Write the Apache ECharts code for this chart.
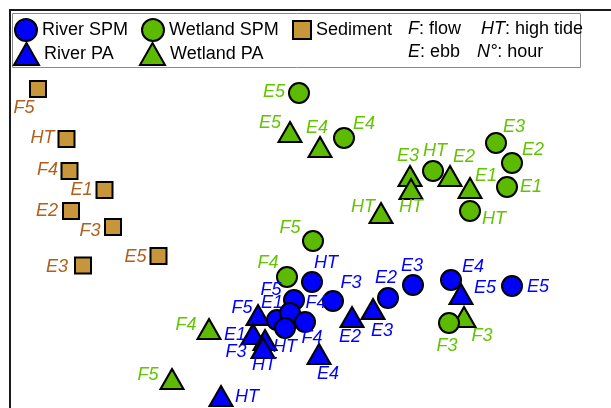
<!DOCTYPE html>
<html>
<head>
<meta charset="utf-8">
<script src="https://cdn.jsdelivr.net/npm/echarts@6/dist/echarts.min.js"></script>
<style>html,body{margin:0;padding:0;background:#fff}#c{width:611px;height:408px}</style>
</head>
<body>
<div id="c"></div>
<script>
// NMDS ordination scores
var sedNames = ['F5','HT','F4','E1','E2','F3','E5','E3'];
var sedX = [-2.62,-2.335,-2.305,-1.955,-2.29,-1.87,-1.415,-2.17];
var sedY = [1.61,1.11,0.79,0.60,0.39,0.23,-0.06,-0.155];

var wSpmNames = ['E5','E4','HT','E3','E2','E1','HT','F5','F4','F3'];
var wSpmX = [-0.01,0.44,1.33,1.96,2.12,2.07,1.70,0.13,-0.13,1.49];
var wSpmY = [1.57,1.12,0.79,1.07,0.87,0.63,0.39,0.09,-0.27,-0.73];

var wPaNames = ['E5','E4','E3','HT','E2','E1','HT','F4','F5','F3'];
var wPaX = [-0.10,0.20,1.10,1.11,1.50,1.70,0.81,-0.91,-1.28,1.64];
var wPaY = [1.18,1.03,0.74,0.61,0.74,0.62,0.37,-0.79,-1.29,-0.67];

var rSpmNames = ['HT','F3','E2','E3','E4','E5','F5','E1','F4','HT','F4'];
var rSpmX = [0.12,0.33,0.88,1.13,1.51,2.12,-0.06,-0.23,-0.10,-0.15,0.05];
var rSpmY = [-0.32,-0.51,-0.48,-0.35,-0.30,-0.36,-0.50,-0.70,-0.63,-0.78,-0.72];

var rPaNames = ['F5','E1','HT','F3','E2','E3','E4','E5','HT'];
var rPaX = [-0.42,-0.47,-0.35,-0.37,0.52,0.73,0.19,1.61,-0.79];
var rPaY = [-0.65,-0.84,-0.90,-0.98,-0.67,-0.59,-1.04,-0.44,-1.46];

// label placement (pixel offsets of label from its marker)
var sedLab = [[-14,19],[-24,-1],[-22,-1],[-23,0],[-24,0],[-23,4],[-23,1],[-26,1]];
var wSpmLab = [[-25,-1],[20,-14],[2,-20],[18,-16],[21,-13],[24,0],[24,8],[-23,-13],[-19,-14],[-2,23]];
var wPaLab = [[-20,-9],[-3,-19],[-2,-20],[0,18],[14,-19],[16,-12],[-18,-6],[-23,-4],[-24,-4],[18,19]];
var rSpmLab = [[14,-19],[18,-18],[-2,-20],[-1,-19],[22,-13],[26,1],[-23,-10],[-5,-17],[26,-10],[0,19],[7,16]];
var rPaLab = [[-16,-7],[-18,1],[-1,25],[-27,4],[-2,20],[9,22],[9,20],[24,-6],[26,1]];

var FONT = '"Liberation Sans", Arial, sans-serif';
var BLUE = '#0000ff', GREEN = '#5cbb00', SED = '#c8963a';
var GREEN_T = '#63c400', SED_T = '#b0601c';

function build(names, xs, ys, labs) {
  return names.map(function (n, i) {
    return { name: n, value: [xs[i], ys[i]], label: { offset: labs[i] } };
  });
}
function ser(name, sym, size, color, txtColor, data) {
  return {
    name: name, type: 'scatter', symbol: sym, symbolSize: size,
    itemStyle: { color: color, borderColor: '#000', borderWidth: 2, opacity: 1 },
    label: {
      show: true, position: 'inside', formatter: '{b}',
      color: txtColor, fontSize: 18, fontStyle: 'italic', fontFamily: FONT,
      align: 'center', verticalAlign: 'middle'
    },
    emphasis: { disabled: true },
    data: data
  };
}
function leg(name, icon, color, left, top, w, h) {
  return {
    data: [{ name: name, icon: icon, itemStyle: { color: color, borderColor: '#000', borderWidth: 2 } }],
    left: left, top: top, itemWidth: w, itemHeight: h, padding: 0, itemGap: 0,
    selectedMode: false, z: 5,
    textStyle: { fontSize: 18, color: '#000', fontFamily: FONT }
  };
}
var hiddenAxis = {
  type: 'value', axisLabel: { show: false }, axisTick: { show: false }, splitLine: { show: false },
  axisLine: { show: true, onZero: false, lineStyle: { color: '#1a1a1a', width: 2 } }
};

var chart = echarts.init(document.getElementById('c'), null, { renderer: 'canvas' });
chart.setOption({
  animation: false,
  backgroundColor: '#fff',
  grid: { left: 10, top: 10, right: 0, bottom: 0, show: false },
  xAxis: Object.assign({}, hiddenAxis, { min: -2.9, max: 3.11, position: 'top' }),
  yAxis: Object.assign({}, hiddenAxis, { min: -1.58, max: 2.4, position: 'left' }),
  legend: [
    leg('River SPM', 'circle', BLUE, 14, 18, 22, 22),
    leg('Wetland SPM', 'circle', GREEN, 141, 18, 22, 22),
    leg('Sediment', 'rect', SED, 292, 20, 18, 18),
    leg('River PA', 'triangle', BLUE, 13, 42, 25, 22),
    leg('Wetland PA', 'triangle', GREEN, 139, 42, 25, 22)
  ],
  graphic: [
    { type: 'rect', z: 1, shape: { x: 12.5, y: 13.5, width: 568, height: 54 }, style: { fill: '#fff', stroke: '#8a8a8a', lineWidth: 1 } },
    { type: 'text', z: 6, left: 408, top: 20, style: { text: '{i|F}: flow', font: '18px ' + FONT, fill: '#000', rich: { i: { fontStyle: 'italic', fontSize: 18, fontFamily: FONT } } } },
    { type: 'text', z: 6, left: 481, top: 20, style: { text: '{i|HT}: high tide', font: '18px ' + FONT, fill: '#000', rich: { i: { fontStyle: 'italic', fontSize: 18, fontFamily: FONT } } } },
    { type: 'text', z: 6, left: 408, top: 43, style: { text: '{i|E}: ebb', font: '18px ' + FONT, fill: '#000', rich: { i: { fontStyle: 'italic', fontSize: 18, fontFamily: FONT } } } },
    { type: 'text', z: 6, left: 477, top: 43, style: { text: '{i|N°}: hour', font: '18px ' + FONT, fill: '#000', rich: { i: { fontStyle: 'italic', fontSize: 18, fontFamily: FONT } } } }
  ],
  series: [
    ser('Sediment', 'rect', 16, SED, SED_T, build(sedNames, sedX, sedY, sedLab)),
    ser('Wetland PA', 'triangle', [23, 20], GREEN, GREEN_T, build(wPaNames, wPaX, wPaY, wPaLab)),
    ser('Wetland SPM', 'circle', 20, GREEN, GREEN_T, build(wSpmNames, wSpmX, wSpmY, wSpmLab)),
    ser('River PA', 'triangle', [23, 20], BLUE, BLUE, build(rPaNames, rPaX, rPaY, rPaLab)),
    ser('River SPM', 'circle', 20, BLUE, BLUE, build(rSpmNames, rSpmX, rSpmY, rSpmLab))
  ]
});
</script>
</body>
</html>
